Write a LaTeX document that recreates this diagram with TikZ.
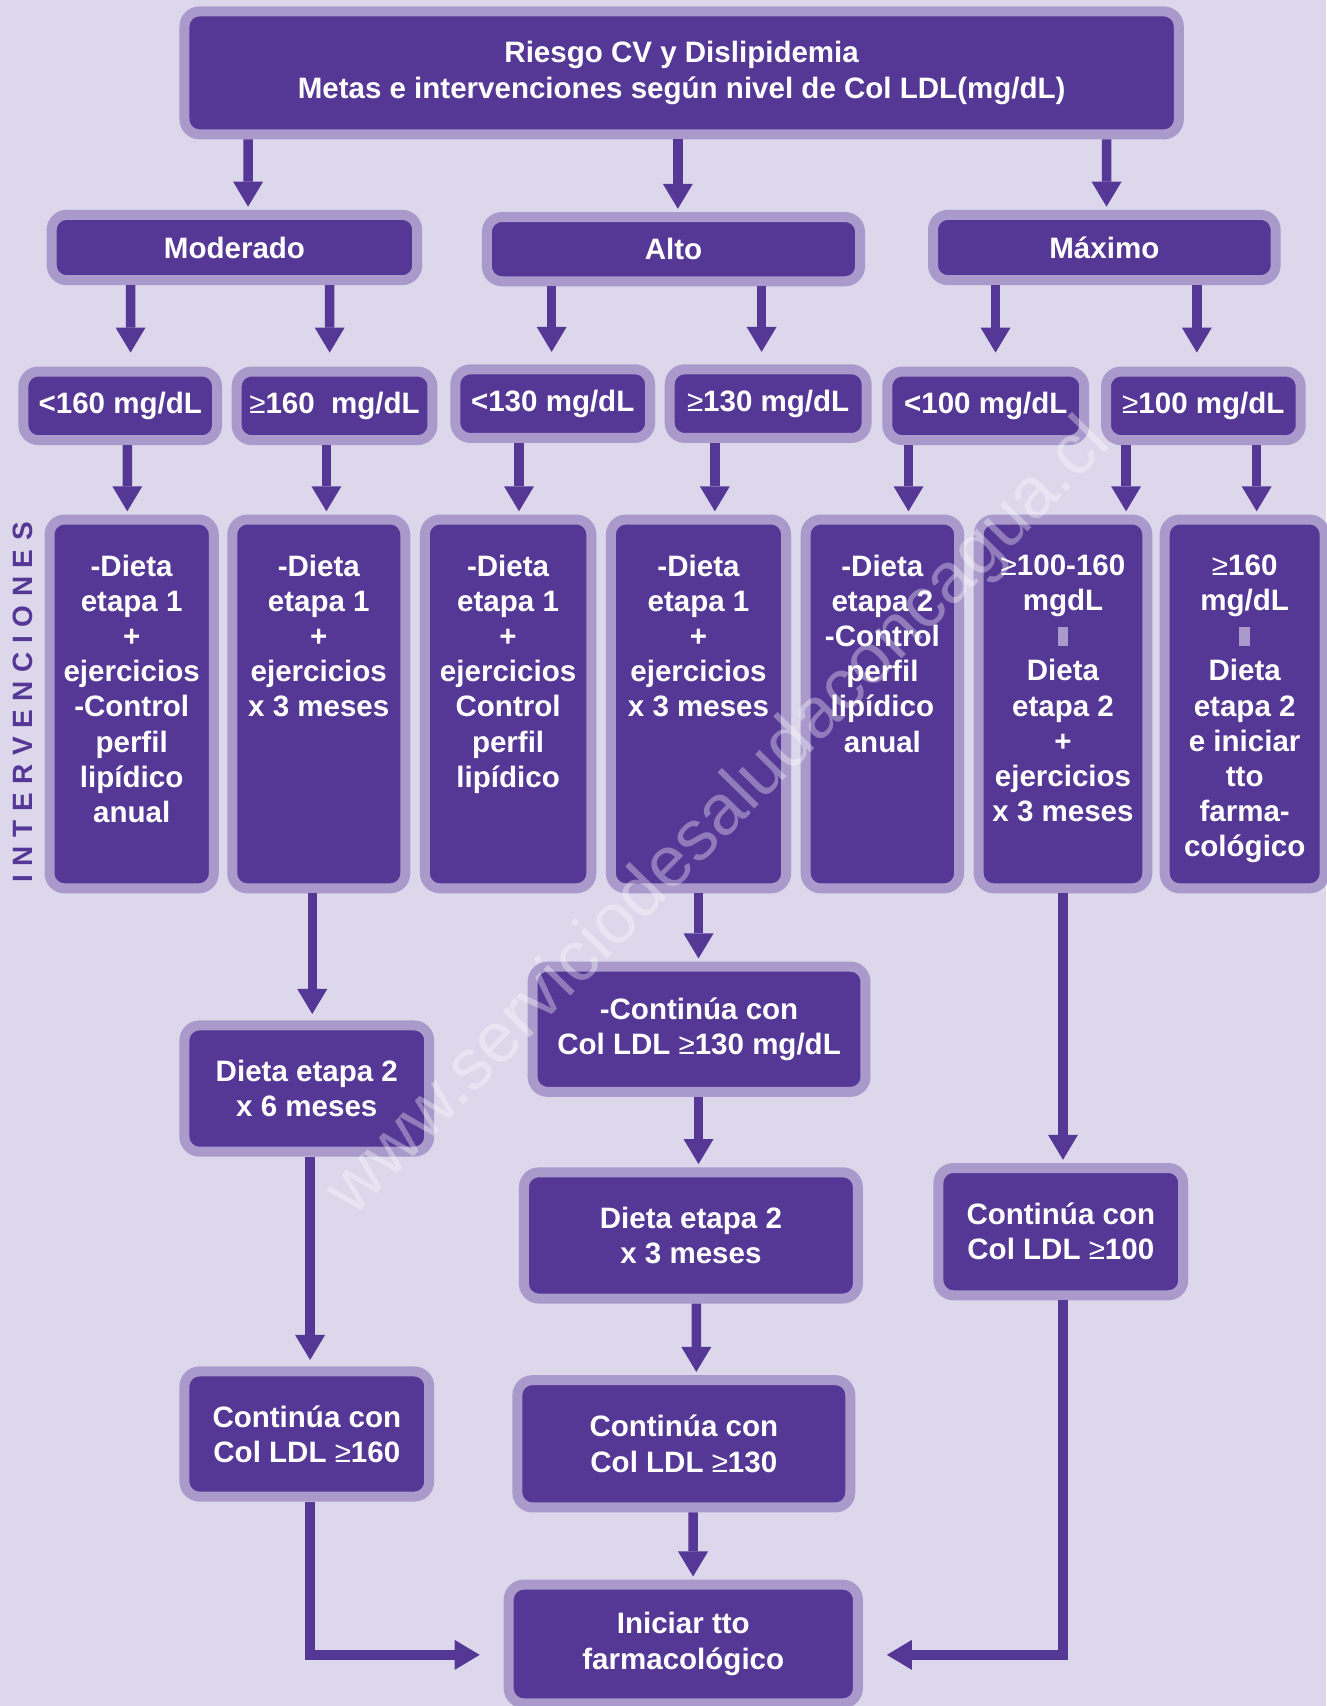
\documentclass[tikz,border=0pt]{standalone}
\usepackage{fontspec}
\setmainfont{Liberation Sans}
\usepackage{tikz}
\usetikzlibrary{arrows.meta,calc}

\definecolor{bgcol}{HTML}{DCD7EB}
\definecolor{edgecol}{HTML}{A99ACB}
\definecolor{boxcol}{HTML}{553796}

\tikzstyle{riskbox} = [rectangle, draw=edgecol, fill=boxcol, line width=0.2cm, rounded corners=0.3cm, text=white, align=center, inner sep=0pt, font=\bfseries\fontsize{16.8}{20}\selectfont]
\tikzstyle{tallbox} = [riskbox, minimum height=7.375cm]
\tikzstyle{line} = [draw=boxcol, line width=0.19cm, -{Triangle[width=0.6cm,length=0.5cm,line width=0pt]}, shorten >=0.065cm]

\newcommand{\tallText}[1]{\parbox[c][5.96cm][t]{3.0cm}{\centering #1}}
\newcommand{\mayor}{{\mdseries ≥}}
\newcommand{\sepmark}{{\color{edgecol}\rule{6.2pt}{11pt}}}

\begin{document}
\begin{tikzpicture}[x=0.021756cm, y=-0.021756cm]
\useasboundingbox (0,0) rectangle (1219,1568);
\fill [bgcol] (0,0) rectangle (1219,1568);

% title
\node [riskbox, minimum width=19.885cm, minimum height=2.458cm] at (626.5, 67) (top) {Riesgo CV y Dislipidemia\\Metas e intervenciones según nivel de Col LDL(mg/dL)};

% risk levels
\node [riskbox, minimum width=7.310cm, minimum height=1.305cm] at (215.5, 227.5) (mod) {Moderado};
\node [riskbox, minimum width=7.462cm, minimum height=1.284cm] at (619, 229) (alto) {Alto};
\node [riskbox, minimum width=6.853cm, minimum height=1.305cm] at (1015, 227.5) (max) {Máximo};
\path [line] ($(top.south)+(-398.5,0)$) -- ($(mod.north)+(12.5,0)$);
\path [line] ($(top.south)+(-3.5,0)$) -- ($(alto.north)+(4,0)$);
\path [line] ($(top.south)+(390.5,0)$) -- ($(max.north)+(2,0)$);

% LDL thresholds
\node [riskbox, minimum width=3.873cm, minimum height=1.371cm] at (110.5, 373) (lt160) {<160 mg/dL};
\node [riskbox, minimum width=3.916cm, minimum height=1.371cm] at (307.5, 373) (ge160) {\mayor160~ mg/dL};
\node [riskbox, minimum width=3.894cm, minimum height=1.371cm] at (508, 371) (lt130) {<130 mg/dL};
\node [riskbox, minimum width=3.938cm, minimum height=1.371cm] at (706, 371) (ge130) {\mayor130 mg/dL};
\node [riskbox, minimum width=3.938cm, minimum height=1.371cm] at (906, 373) (lt100) {<100 mg/dL};
\node [riskbox, minimum width=3.894cm, minimum height=1.371cm] at (1106, 373) (ge100) {\mayor100 mg/dL};
\path [line, shorten >=0.28cm] ($(mod.south)+(-95.5,0)$) -- ($(lt160.north)+(9.5,0)$);
\path [line, shorten >=0.28cm] ($(mod.south)+(87.5,0)$) -- ($(ge160.north)+(-4.5,0)$);
\path [line, shorten >=0.25cm] ($(alto.south)+(-112,0)$) -- ($(lt130.north)+(-1,0)$);
\path [line, shorten >=0.25cm] ($(alto.south)+(81,0)$) -- ($(ge130.north)+(-6,0)$);
\path [line, shorten >=0.28cm] ($(max.south)+(-100,0)$) -- ($(lt100.north)+(9,0)$);
\path [line, shorten >=0.28cm] ($(max.south)+(85,0)$) -- ($(ge100.north)+(-6,0)$);

% interventions
\node [tallbox, minimum width=3.285cm] at (121, 647) (i1) {\tallText{-Dieta\\etapa 1\\+\\ejercicios\\-Control\\perfil\\lipídico\\anual}};
\node [tallbox, minimum width=3.459cm] at (293, 647) (i2) {\tallText{-Dieta\\etapa 1\\+\\ejercicios\\x 3 meses}};
\node [tallbox, minimum width=3.329cm] at (467, 647) (i3) {\tallText{-Dieta\\etapa 1\\+\\ejercicios\\Control\\perfil\\lipídico}};
\node [tallbox, minimum width=3.503cm] at (642, 647) (i4) {\tallText{-Dieta\\etapa 1\\+\\ejercicios\\x 3 meses}};
\node [tallbox, minimum width=3.068cm] at (811, 647) (i5) {\tallText{-Dieta\\etapa 2\\-Control\\perfil\\lipídico\\anual}};
\node [tallbox, minimum width=3.372cm] at (977, 647) (i6) {\tallText{\mayor100-160\\mgdL\\\sepmark\\Dieta\\etapa 2\\+\\ejercicios\\x 3 meses}};
\node [tallbox, minimum width=3.198cm] at (1144, 647) (i7) {\tallText{\mayor160\\mg/dL\\\sepmark\\Dieta\\etapa 2\\e iniciar\\tto\\farma-\\cológico}};
\path [line] ($(lt160.south)+(6.5,0)$) -- ($(i1.north)+(-4,0)$);
\path [line] ($(ge160.south)+(-7.5,0)$) -- ($(i2.north)+(7,0)$);
\path [line] ($(lt130.south)+(-31,0)$) -- ($(i3.north)+(10,0)$);
\path [line] ($(ge130.south)+(-49,0)$) -- ($(i4.north)+(15,0)$);
\path [line] ($(lt100.south)+(-71,0)$) -- ($(i5.north)+(24,0)$);
\path [line] ($(ge100.south)+(-71,0)$) -- ($(i6.north)+(58,0)$);
\path [line] ($(ge100.south)+(49,0)$) -- ($(i7.north)+(11,0)$);

\node [rotate=90, text=boxcol, font=\bfseries\fontsize{15.9}{18}\selectfont\addfontfeature{LetterSpace=31}] at (21, 645.5) (interv) {INTERVENCIONES};

% follow-up
\node [riskbox, minimum width=4.895cm, minimum height=2.524cm] at (282, 1000.5) (d6) {Dieta etapa 2\\x 6 meses};
\node [riskbox, minimum width=4.895cm, minimum height=2.502cm] at (282, 1318) (c160) {Continúa con\\Col LDL \mayor160};
\node [riskbox, minimum width=6.657cm, minimum height=2.502cm] at (642.5, 946) (c130a) {-Continúa con\\Col LDL \mayor130 mg/dL};
\node [riskbox, minimum width=6.679cm, minimum height=2.524cm] at (635, 1135.5) (d3) {Dieta etapa 2\\x 3 meses};
\node [riskbox, minimum width=6.657cm, minimum height=2.545cm] at (628.5, 1327) (c130) {Continúa con\\Col LDL \mayor130};
\node [riskbox, minimum width=4.895cm, minimum height=2.545cm] at (975, 1132) (c100) {Continúa con\\Col LDL \mayor100};
\node [riskbox, minimum width=6.984cm, minimum height=2.371cm] at (628, 1511) (ini) {Iniciar tto\\farmacológico};

\path [line, shorten >=0.13cm] ($(i2.south)+(-6,0)$) -- ($(d6.north)+(5,0)$);
\path [line, shorten >=0.13cm] ($(d6.south)+(3,0)$) -- ($(c160.north)+(3,0)$);
\path [line, shorten >=0.48cm] ($(c160.south)+(3,0)$) |- ($(ini.west)+(0,10)$);
\path [line] ($(i4.south)+(0,0)$) -- ($(c130a.north)+(-0.5,0)$);
\path [line] ($(c130a.south)+(-0.5,0)$) -- ($(d3.north)+(7,0)$);
\path [line] ($(d3.south)+(5,0)$) -- ($(c130.north)+(11.5,0)$);
\path [line] ($(c130.south)+(8.5,0)$) -- ($(ini.north)+(9,0)$);
\path [line] ($(i6.south)+(0,0)$) -- ($(c100.north)+(2,0)$);
\path [line, shorten >=0.48cm] ($(c100.south)+(2,0)$) |- ($(ini.east)+(0,10)$);

% watermark
\node [rotate=45.5, text=white, text opacity=0.35, font=\fontsize{40.6}{48}\selectfont] at (662, 752) (wm) {www.serviciodesaludaconcagua.cl};
\end{tikzpicture}
\end{document}
